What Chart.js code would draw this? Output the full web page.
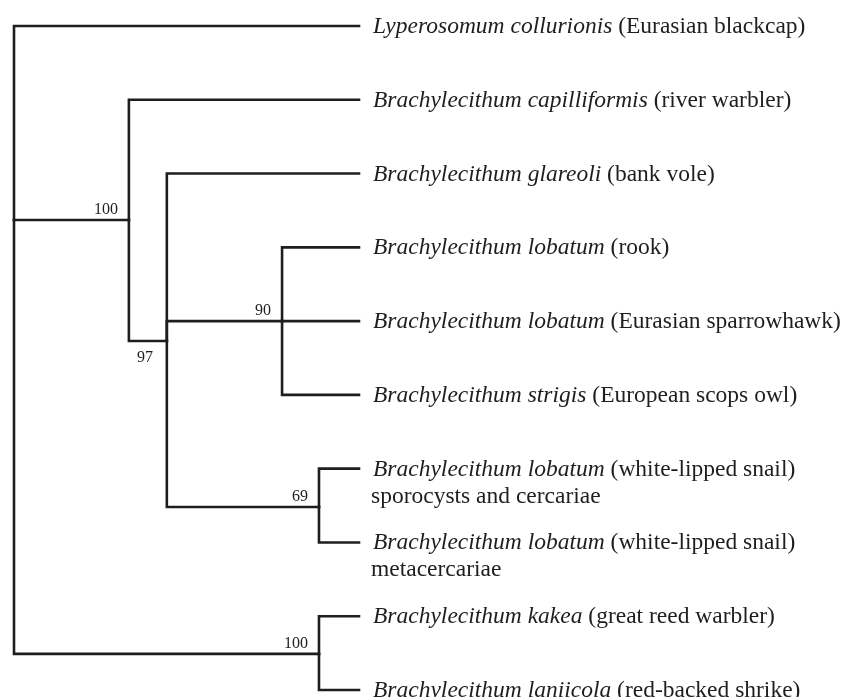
<!DOCTYPE html>
<html>
<head>
<meta charset="utf-8">
<script src="https://cdn.jsdelivr.net/npm/chart.js@4"></script>
<style>
  html, body { margin: 0; padding: 0; background: #fff; }
  #wrap { width: 861px; height: 697px; position: relative; }
</style>
</head>
<body>
<div id="wrap"><canvas id="chart"></canvas></div>
<script>
// ----------------------------
// TREE DATA
// ----------------------------
// leaves, top to bottom
const leafSpecies = [
    "Lyperosomum collurionis",
    "Brachylecithum capilliformis",
    "Brachylecithum glareoli",
    "Brachylecithum lobatum",
    "Brachylecithum lobatum",
    "Brachylecithum strigis",
    "Brachylecithum lobatum",
    "Brachylecithum lobatum",
    "Brachylecithum kakea",
    "Brachylecithum laniicola"
];
const leafHosts = [
    "(Eurasian blackcap)",
    "(river warbler)",
    "(bank vole)",
    "(rook)",
    "(Eurasian sparrowhawk)",
    "(European scops owl)",
    "(white-lipped snail)",
    "(white-lipped snail)",
    "(great reed warbler)",
    "(red-backed shrike)"
];
const leafNotes = ["", "", "", "", "", "", "sporocysts and cercariae", "metacercariae", "", ""];
const leafRow = [0, 1, 2, 3, 4, 5, 6, 7, 8, 9];
const leafParent = [0, 1, 2, 3, 3, 3, 4, 4, 5, 5];
const leafDepth = 100;

// internal nodes: root, A, B, C, D, E
const nodeDepth = [0, 33.3, 44.3, 77.7, 88.4, 88.4];
const nodeRow = [2.63, 2.63, 4.27, 4, 6.52, 8.51];
const nodeParent = [-1, 0, 1, 2, 2, 0];
const nodeSupport = ["", "100", "97", "90", "69", "100"];

// ----------------------------
// BUILD BRANCHES (elbow paths)
// ----------------------------
function elbow(parent, childX, childY) {
    return [
        { x: nodeDepth[parent], y: nodeRow[parent] },
        { x: nodeDepth[parent], y: childY },
        { x: childX, y: childY }
    ];
}

const branches = [];
nodeParent.forEach((p, i) => {
    if (p >= 0) branches.push(elbow(p, nodeDepth[i], nodeRow[i]));
});
leafParent.forEach((p, i) => {
    branches.push(elbow(p, leafDepth, leafRow[i]));
});

const datasets = branches.map(pts => ({
    data: pts,
    borderColor: "#1e1e1e",
    borderWidth: 2.6,
    borderCapStyle: "square",
    borderJoinStyle: "miter",
    pointRadius: 0,
    tension: 0,
    clip: false
}));

// ----------------------------
// LABELS PLUGIN
// ----------------------------
const supportBelow = [false, false, true, false, false, false];
const serif = "'Liberation Serif', 'DejaVu Serif', serif";

const treeLabels = {
    id: "treeLabels",
    afterDatasetsDraw(chart) {
        const { ctx, scales: { x, y } } = chart;
        ctx.save();
        ctx.fillStyle = "#1e1e1e";
        ctx.textBaseline = "alphabetic";

        // leaf names
        const tipX = x.getPixelForValue(leafDepth) + 14;
        leafSpecies.forEach((sp, i) => {
            const py = y.getPixelForValue(leafRow[i]) + 7;
            ctx.font = "italic 23.5px " + serif;
            ctx.textAlign = "left";
            ctx.fillText(sp, tipX, py);
            const w = ctx.measureText(sp + " ").width;
            ctx.font = "23.5px " + serif;
            ctx.fillText(leafHosts[i], tipX + w, py);
            if (leafNotes[i]) {
                ctx.fillText(leafNotes[i], tipX - 2, py + 27);
            }
        });

        // support values
        ctx.font = "16px " + serif;
        nodeSupport.forEach((s, i) => {
            if (!s) return;
            const p = nodeParent[i];
            if (supportBelow[i]) {
                ctx.textAlign = "left";
                ctx.fillText(s, x.getPixelForValue(nodeDepth[p]) + 8, y.getPixelForValue(nodeRow[i]) + 21);
            } else {
                ctx.textAlign = "right";
                ctx.fillText(s, x.getPixelForValue(nodeDepth[i]) - 11, y.getPixelForValue(nodeRow[i]) - 6);
            }
        });
        ctx.restore();
    }
};

// ----------------------------
// CHART
// ----------------------------
new Chart(document.getElementById("chart"), {
    type: "line",
    data: { datasets: datasets },
    options: {
        responsive: true,
        maintainAspectRatio: false,
        animation: false,
        events: [],
        layout: { padding: { left: 14, right: 502, top: 26, bottom: 7 } },
        plugins: { legend: { display: false }, tooltip: { enabled: false } },
        scales: {
            x: { type: "linear", min: 0, max: 100, display: false },
            y: { type: "linear", min: 0, max: 9, reverse: true, display: false }
        }
    },
    plugins: [treeLabels]
});
</script>
</body>
</html>
